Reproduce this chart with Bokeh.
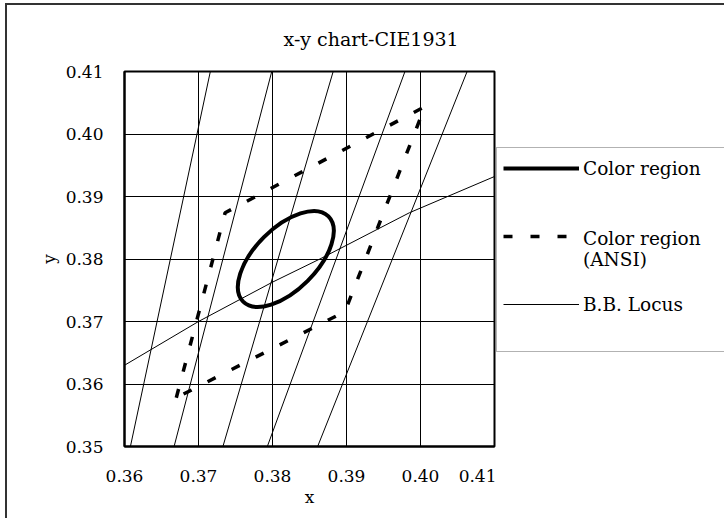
import math
from bokeh.plotting import figure
from bokeh.layouts import row
from bokeh.models import (Range1d, FixedTicker, PrintfTickFormatter, Legend,
                          LegendItem)
from bokeh.embed import file_html
from bokeh.resources import INLINE

# ---------------- data ----------------
x_ticks = [0.36, 0.37, 0.38, 0.39, 0.40, 0.41]
y_ticks = [0.35, 0.36, 0.37, 0.38, 0.39, 0.40, 0.41]

# isotherm (CCT) lines: endpoints at bottom (y=0.35) and top (y=0.41)
iso_x0 = [0.3608, 0.3667, 0.3733, 0.3793, 0.3861]
iso_y0 = [0.35, 0.35, 0.35, 0.35, 0.35]
iso_x1 = [0.3716, 0.3799, 0.3882, 0.3979, 0.4063]
iso_y1 = [0.41, 0.41, 0.41, 0.41, 0.41]

# black body locus
locus_x = [0.3600, 0.3700, 0.3800, 0.3864, 0.3985, 0.4100]
locus_y = [0.3630, 0.3700, 0.3763, 0.3800, 0.3874, 0.3932]

# ANSI quadrangle (4000K)
ansi_x = [0.3670, 0.3736, 0.4006, 0.3898, 0.3670]
ansi_y = [0.3578, 0.3874, 0.4044, 0.3716, 0.3578]

# colour region ellipse: centre, axes (x-units / y-units), tilt
ell_x = [0.3818]
ell_y = [0.3800]
ell_w = [0.0163]
ell_h = [0.0099]
ell_angle = [45.0]

legend_labels = ["Color region", "Color region\n(ANSI)", "B.B. Locus"]

FONT = "DejaVu Serif"

# ---------------- main chart ----------------
p = figure(width=489, height=513, output_backend="svg", toolbar_location=None,
           x_range=Range1d(0.36, 0.41), y_range=Range1d(0.35, 0.41),
           min_border_left=117, min_border_right=2,
           min_border_top=66, min_border_bottom=72)
p.background_fill_color = "white"
p.border_fill_color = "white"
p.outline_line_color = "black"
p.outline_line_width = 2

p.title.text = "x-y chart-CIE1931"
p.title.align = "left"
p.title.offset = 159
p.title.vertical_align = "top"
p.title.standoff = 40
p.title.text_font = FONT
p.title.text_font_size = "19px"
p.title.text_font_style = "normal"
p.title.text_color = "black"

for ax in (p.xaxis, p.yaxis):
    ax.major_tick_out = 0
    ax.major_tick_in = 0
    ax.minor_tick_out = 0
    ax.minor_tick_in = 0
    ax.axis_line_color = "black"
    ax.axis_line_width = 2
    ax.major_label_text_font = FONT
    ax.major_label_text_font_size = "17px"
    ax.major_label_text_color = "black"
    ax.axis_label_text_font = FONT
    ax.axis_label_text_font_size = "17px"
    ax.axis_label_text_font_style = "normal"
    ax.axis_label_text_color = "black"
    ax.formatter = PrintfTickFormatter(format="%.2f")

p.xaxis.ticker = FixedTicker(ticks=x_ticks)
p.yaxis.ticker = FixedTicker(ticks=y_ticks)
p.xaxis.axis_label = "x"
p.yaxis.axis_label = "y"
p.xaxis.major_label_standoff = 23
p.yaxis.major_label_standoff = 21
p.xaxis.axis_label_standoff = 2
p.yaxis.axis_label_standoff = 4

p.xgrid.ticker = FixedTicker(ticks=x_ticks)
p.ygrid.ticker = FixedTicker(ticks=y_ticks)
for g in (p.xgrid, p.ygrid):
    g.grid_line_color = "black"
    g.grid_line_alpha = 1.0
    g.grid_line_width = 1

# isotherm lines
p.segment(x0=iso_x0, y0=iso_y0, x1=iso_x1, y1=iso_y1,
          line_color="black", line_width=1)

# B.B. locus
p.line(locus_x, locus_y, line_color="black", line_width=1)

# ANSI region
p.line(ansi_x, ansi_y, line_color="black", line_width=3.5, line_dash="9 18")

# colour region ellipse
p.ellipse(x=ell_x, y=ell_y, width=ell_w, height=ell_h,
          angle=[math.radians(a) for a in ell_angle],
          fill_color=None, line_color="black", line_width=4)

# ---------------- legend panel ----------------
q = figure(width=228, height=513, output_backend="svg", toolbar_location=None,
           x_range=Range1d(0, 1), y_range=Range1d(0, 1),
           min_border_left=0, min_border_right=0,
           min_border_top=0, min_border_bottom=0)
q.axis.visible = False
q.grid.visible = False
q.outline_line_color = None
q.background_fill_color = "white"
q.border_fill_color = "white"

# legend swatches (single-point lines: nothing drawn in the plot itself)
r0 = q.line(ell_x[:1], ell_y[:1], line_color="black", line_alpha=0)
r1 = q.line(ell_x[:1], ell_y[:1], line_color="black", line_width=4)
r2 = q.line(ell_x[:1], ell_y[:1], line_color="black", line_width=3.5,
            line_dash="9 18")
r3 = q.line(ell_x[:1], ell_y[:1], line_color="black", line_width=1)

common = dict(glyph_width=76, label_width=123, label_standoff=4, padding=12,
              margin=0, label_text_font=FONT, label_text_font_size="18.5px",
              label_text_color="black")

# frame of the legend box
box = Legend(items=[LegendItem(label=" ", renderers=[r0])],
             location=(0, 94), glyph_height=179, label_height=179,
             border_line_color="#666666", border_line_width=1,
             background_fill_color="white", background_fill_alpha=1.0,
             **common)
leg1 = Legend(items=[LegendItem(label=legend_labels[0], renderers=[r1])],
              location=(7, 266), glyph_height=24, label_height=24,
              border_line_color=None, background_fill_alpha=0.0, **common)
# dashed swatch, level with the first line of its two-line label
legd = Legend(items=[LegendItem(label=" ", renderers=[r2])],
              location=(7, 198), glyph_height=24, label_height=24,
              border_line_color=None, background_fill_alpha=0.0, **common)
leg2 = Legend(items=[LegendItem(label=legend_labels[1], renderers=[r0]),
                     LegendItem(label=legend_labels[2], renderers=[r3])],
              location=(7, 130), glyph_height=24, label_height=24,
              spacing=22, border_line_color=None, background_fill_alpha=0.0,
              **common)
q.add_layout(box)
q.add_layout(leg1)
q.add_layout(legd)
q.add_layout(leg2)

lay = row(p, q)
lay.styles = {"margin-left": "5px", "margin-top": "3px",
              "border-left": "2px solid #333", "border-top": "2px solid #333"}

open("out.html", "w").write(file_html(lay, INLINE))
